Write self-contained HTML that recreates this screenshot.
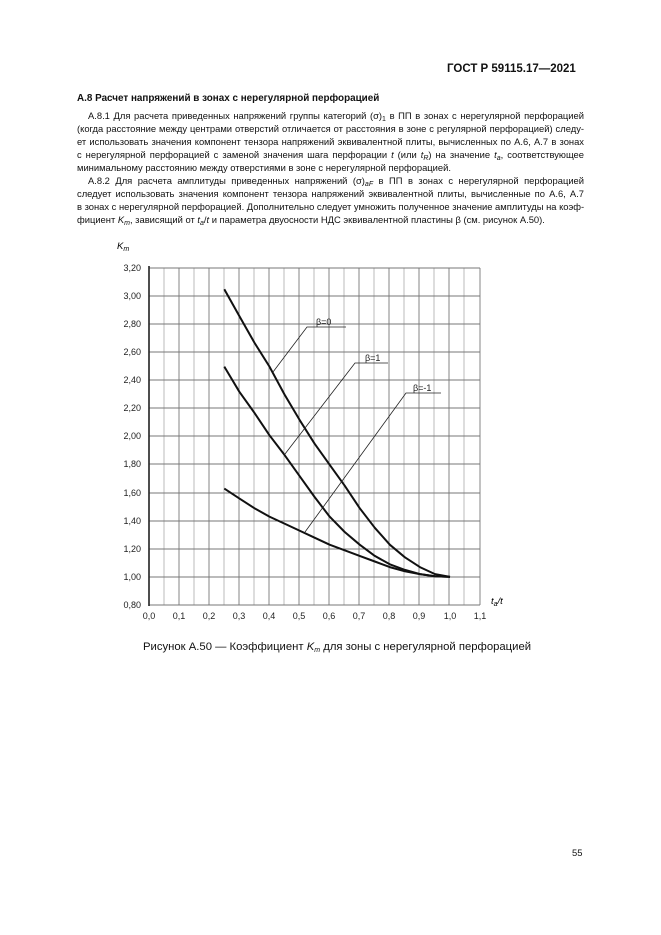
<!DOCTYPE html>
<html><head><meta charset="utf-8">
<style>
body{margin:0;background:#fff;}
#p{position:relative;width:661px;height:935px;overflow:hidden;font-family:"Liberation Sans",Arial,sans-serif;color:#111;}
.t{position:absolute;font-size:9.4px;line-height:13px;white-space:nowrap;}
.j{position:absolute;font-size:9.4px;line-height:13px;text-align:justify;text-align-last:justify;white-space:nowrap;}
sub{font-size:7px;vertical-align:-2px;line-height:0}
</style></head><body><div id="p">
<div class="t" style="left:447px;top:63px;font-size:11.5px;font-weight:bold;">ГОСТ Р 59115.17—2021</div>
<div class="t" style="left:77px;top:92px;font-weight:bold;font-size:9.9px;">А.8 Расчет напряжений в зонах с нерегулярной перфорацией</div>
<div class="j" style="left:88px;top:109px;width:496px;">А.8.1 Для расчета приведенных напряжений группы категорий (σ)<sub>1</sub> в ПП в зонах с нерегулярной перфорацией</div>
<div class="j" style="left:77px;top:122px;width:507px;">(когда расстояние между центрами отверстий отличается от расстояния в зоне с регулярной перфорацией) следу-</div>
<div class="j" style="left:77px;top:135px;width:507px;">ет использовать значения компонент тензора напряжений эквивалентной плиты, вычисленных по А.6, А.7 в зонах</div>
<div class="j" style="left:77px;top:148px;width:507px;">с нерегулярной перфорацией с заменой значения шага перфорации <i>t</i> (или <i>t<sub>R</sub></i>) на значение <i>t<sub>a</sub></i>, соответствующее</div>
<div class="t" style="left:77px;top:161px;">минимальному расстоянию между отверстиями в зоне с нерегулярной перфорацией.</div>
<div class="j" style="left:88px;top:174px;width:496px;">А.8.2 Для расчета амплитуды приведенных напряжений (σ)<sub><i>aF</i></sub> в ПП в зонах с нерегулярной перфорацией</div>
<div class="j" style="left:77px;top:187px;width:507px;">следует использовать значения компонент тензора напряжений эквивалентной плиты, вычисленные по А.6, А.7</div>
<div class="j" style="left:77px;top:200px;width:507px;">в зонах с нерегулярной перфорацией. Дополнительно следует умножить полученное значение амплитуды на коэф-</div>
<div class="t" style="left:77px;top:213px;">фициент <i>K<sub>m</sub></i>, зависящий от <i>t<sub>a</sub></i>/<i>t</i> и параметра двуосности НДС эквивалентной пластины β (см. рисунок А.50).</div>

<svg style="position:absolute;left:0;top:0" width="661" height="935" font-family="Liberation Sans, Arial, sans-serif" font-size="9">
<g stroke="#aaa" stroke-width="0.8">
<line x1="164" y1="268" x2="164" y2="605"/><line x1="194" y1="268" x2="194" y2="605"/>
<line x1="224" y1="268" x2="224" y2="605"/><line x1="254" y1="268" x2="254" y2="605"/>
<line x1="284" y1="268" x2="284" y2="605"/><line x1="314" y1="268" x2="314" y2="605"/>
<line x1="344" y1="268" x2="344" y2="605"/><line x1="374" y1="268" x2="374" y2="605"/>
<line x1="404" y1="268" x2="404" y2="605"/><line x1="434" y1="268" x2="434" y2="605"/>
<line x1="464" y1="268" x2="464" y2="605"/>
</g>
<g stroke="#777" stroke-width="0.9">
<line x1="179" y1="268" x2="179" y2="605"/><line x1="209" y1="268" x2="209" y2="605"/>
<line x1="239" y1="268" x2="239" y2="605"/><line x1="269" y1="268" x2="269" y2="605"/>
<line x1="299" y1="268" x2="299" y2="605"/><line x1="329" y1="268" x2="329" y2="605"/>
<line x1="359" y1="268" x2="359" y2="605"/><line x1="389" y1="268" x2="389" y2="605"/>
<line x1="419" y1="268" x2="419" y2="605"/><line x1="449" y1="268" x2="449" y2="605"/>
<line x1="480" y1="268" x2="480" y2="605"/>
<line x1="149" y1="268" x2="480" y2="268"/><line x1="149" y1="296" x2="480" y2="296"/>
<line x1="149" y1="324" x2="480" y2="324"/><line x1="149" y1="352" x2="480" y2="352"/>
<line x1="149" y1="380" x2="480" y2="380"/><line x1="149" y1="408" x2="480" y2="408"/>
<line x1="149" y1="436" x2="480" y2="436"/><line x1="149" y1="464" x2="480" y2="464"/>
<line x1="149" y1="493" x2="480" y2="493"/><line x1="149" y1="521" x2="480" y2="521"/>
<line x1="149" y1="549" x2="480" y2="549"/><line x1="149" y1="577" x2="480" y2="577"/>
<line x1="149" y1="605" x2="480" y2="605"/>
</g>
<line x1="149" y1="266" x2="149" y2="606" stroke="#222" stroke-width="1.6"/>
<g text-anchor="end" fill="#222">
<text x="141" y="271">3,20</text><text x="141" y="299">3,00</text><text x="141" y="327">2,80</text>
<text x="141" y="355">2,60</text><text x="141" y="383">2,40</text><text x="141" y="411">2,20</text>
<text x="141" y="439">2,00</text><text x="141" y="467">1,80</text><text x="141" y="496">1,60</text>
<text x="141" y="524">1,40</text><text x="141" y="552">1,20</text><text x="141" y="580">1,00</text>
<text x="141" y="608">0,80</text>
</g>
<g text-anchor="middle" fill="#222">
<text x="149" y="619">0,0</text><text x="179" y="619">0,1</text><text x="209" y="619">0,2</text>
<text x="239" y="619">0,3</text><text x="269" y="619">0,4</text><text x="299" y="619">0,5</text>
<text x="329" y="619">0,6</text><text x="359" y="619">0,7</text><text x="389" y="619">0,8</text>
<text x="419" y="619">0,9</text><text x="450" y="619">1,0</text><text x="480" y="619">1,1</text>
</g>
<text x="117" y="249" font-style="italic" font-size="9.5">K<tspan font-size="7" dy="2">m</tspan></text>
<text x="491" y="604" font-style="italic" font-size="9.5">t<tspan font-size="7" dy="2">a</tspan><tspan dy="-2">/t</tspan></text>
<g fill="none" stroke="#111" stroke-width="2" stroke-linejoin="round">
<polyline points="224.3,289.3 239.3,316 254.4,342.6 269.4,366.5 284.5,394.5 299.5,419.8 314.6,443.7 329.6,464.7 344.7,485.7 359.7,508.2 374.8,527.8 389.8,544.7 404.9,557.3 419.9,567.1 435,574.1 450,576.9"/>
<polyline points="224.3,366.6 239.3,391.7 254.4,412.8 269.4,435.2 284.5,454.9 299.5,475.9 314.6,497 329.6,516.6 344.7,532 359.7,544.7 374.8,555.9 389.8,564.3 404.9,569.9 419.9,574.1 435,576.2 450,576.9"/>
<polyline points="224.3,488.6 239.3,498.4 254.4,508.2 269.4,516.6 284.5,523.6 299.5,530.6 314.6,537.7 329.6,544.7 344.7,550.3 359.7,555.9 374.8,561.5 389.8,567.1 404.9,571.3 419.9,574.1 435,576.2 450,576.9"/>
</g>
<g fill="none" stroke="#222" stroke-width="0.8">
<polyline points="273,372 307,327 346,327"/>
<polyline points="285,454 355,363 388,363"/>
<polyline points="305,532 406,393 441,393"/>
</g>
<g font-size="9" fill="#222">
<text x="316" y="325">β=0</text><text x="365" y="361">β=1</text><text x="413" y="391">β=-1</text>
</g>
</svg>
<div class="t" style="left:143px;top:641px;font-size:11.3px;">Рисунок А.50 — Коэффициент <i>K<sub>m</sub></i> для зоны с нерегулярной перфорацией</div>
<div class="t" style="left:572px;top:846px;">55</div>
</div></body></html>
